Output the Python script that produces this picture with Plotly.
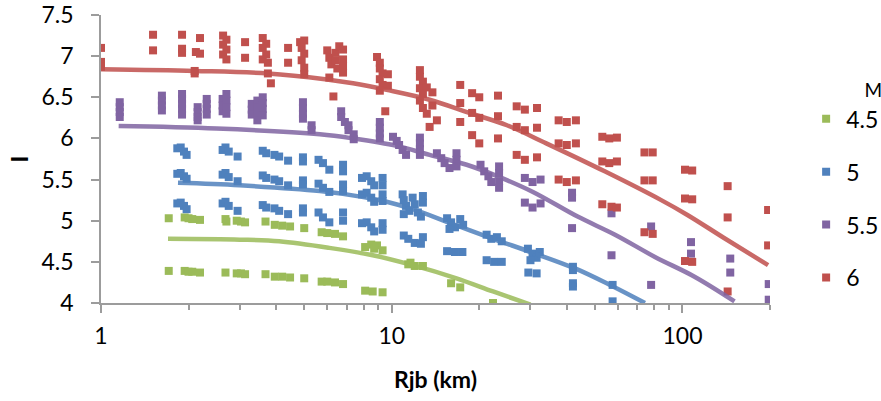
import plotly.graph_objects as go

# ---------------- data ----------------
MAGS = ["4.5", "5", "5.5", "6"]
COLORS = ["#9BBB59", "#4F81BD", "#8064A2", "#C0504D"]

# M 4.5 observations
R_45 = [1.71, 1.94, 2.0, 2.06, 2.19, 2.68, 2.70, 2.93, 3.03, 3.13, 3.68, 3.96, 4.2, 4.47, 5.0,
        5.74, 6.0, 6.38, 6.8, 8.1, 8.5, 8.7, 8.9, 9.3, 11.4, 11.6, 12.0, 12.8, 16.0, 17.2, 22.3,
        1.71, 1.94, 2.0, 2.06, 2.19, 2.68, 2.93, 3.03, 3.13, 3.68, 3.96, 4.2, 4.47, 5.0,
        5.74, 6.0, 6.38, 6.8, 8.1, 8.6, 9.3]
I_45 = [5.03, 5.04, 5.03, 5.02, 5.01, 5.02, 4.99, 5.00, 4.99, 4.98, 4.99, 4.95, 4.94, 4.93, 4.91,
        4.86, 4.85, 4.84, 4.81, 4.68, 4.71, 4.66, 4.70, 4.64, 4.47, 4.49, 4.45, 4.45, 4.24, 4.19, 4.00,
        4.39, 4.39, 4.38, 4.38, 4.37, 4.37, 4.36, 4.36, 4.35, 4.35, 4.32, 4.32, 4.31, 4.30,
        4.26, 4.26, 4.25, 4.23, 4.15, 4.14, 4.13]

# M 5 observations
R_5 = [1.83, 1.88, 1.93, 1.97, 1.83, 1.88, 1.93, 1.97, 1.83, 1.88, 1.93, 1.97,
       2.62, 2.68, 2.75, 2.95, 2.62, 2.68, 2.75, 2.95, 2.62, 2.68, 2.75, 2.95,
       3.6, 3.7, 3.95, 4.1, 4.4, 3.6, 3.7, 3.95, 4.1, 4.4, 3.6, 3.7, 3.95, 4.1, 4.4,
       4.95, 4.95, 4.95, 4.95, 4.95, 4.95,
       5.6, 5.8, 6.1, 5.6, 5.8, 6.1, 5.6, 5.8, 6.1,
       6.8, 6.8, 6.8, 6.8, 6.8, 6.8,
       7.9, 8.2, 8.5, 8.7, 9.3, 9.3, 7.9, 8.2, 8.5, 8.7, 9.3, 9.3, 7.9, 8.2, 8.5, 8.7, 9.3, 9.3,
       10.9, 11.0, 11.2, 11.5, 11.8, 12.0, 12.3, 12.6, 12.8, 12.8, 11.0,
       11.0, 11.4, 12.0, 12.8, 12.6,
       15.5, 16.0, 16.5, 17.2, 17.6, 15.8, 15.5, 16.5, 17.5,
       21.2, 22.0, 23.0, 23.9, 21.2, 22.5, 23.9,
       29.4, 30.5, 31.5, 32.3, 30.0, 29.5, 31.5,
       42.0, 42.0, 42.0, 42.0, 57.5, 57.5]
I_5 = [5.88, 5.89, 5.84, 5.80, 5.57, 5.58, 5.54, 5.51, 5.21, 5.22, 5.18, 5.14,
       5.86, 5.89, 5.84, 5.78, 5.56, 5.58, 5.53, 5.48, 5.21, 5.23, 5.18, 5.12,
       5.85, 5.82, 5.80, 5.78, 5.73, 5.55, 5.52, 5.50, 5.48, 5.43, 5.19, 5.16, 5.15, 5.12, 5.08,
       5.77, 5.72, 5.49, 5.44, 5.15, 5.10,
       5.74, 5.70, 5.62, 5.45, 5.40, 5.35, 5.10, 5.04, 4.98,
       5.68, 5.60, 5.44, 5.36, 5.10, 5.00,
       5.52, 5.54, 5.48, 5.43, 5.52, 5.43, 5.32, 5.34, 5.28, 5.23, 5.32, 5.24, 4.97, 4.98, 4.92, 4.87, 4.97, 4.89,
       5.32, 5.25, 5.18, 5.12, 5.28, 5.20, 5.10, 5.05, 5.30, 5.22, 5.08,
       4.82, 4.78, 4.73, 4.80, 4.72,
       5.03, 4.98, 4.92, 5.02, 4.95, 4.90, 4.63, 4.62, 4.62,
       4.83, 4.78, 4.80, 4.75, 4.52, 4.50, 4.50,
       4.66, 4.60, 4.55, 4.62, 4.52, 4.37, 4.36,
       4.44, 4.40, 4.24, 4.20, 4.22, 4.02]

# M 5.5 observations
R_55 = [1.16, 1.16, 1.16, 1.16,
        1.62, 1.62, 1.62, 1.62,
        1.90, 1.90, 1.90, 1.90, 1.90,
        2.15, 2.15, 2.15, 2.15,
        2.31, 2.31, 2.31, 2.31,
        2.62, 2.62, 2.62, 2.70, 2.70, 2.70, 2.70,
        3.3, 3.3, 3.3, 3.45, 3.45, 3.45, 3.45, 3.6, 3.6, 3.6, 3.6,
        4.95, 4.95, 4.95, 4.95, 5.3, 5.3,
        6.7, 6.7, 6.9, 7.1, 7.1, 7.4, 7.4,
        9.1, 9.1, 9.1, 9.1,
        10.1, 10.4, 10.6, 10.9, 11.2,
        12.5, 12.5, 12.5, 12.5,
        14.3, 14.8, 15.2, 15.8, 16.7, 16.7, 16.7,
        20.2, 20.8, 21.5, 22.0, 23.4, 23.4, 23.4, 23.4,
        28.7, 30.5, 32.5, 28.7, 30.5, 32.5,
        41.7, 41.7, 41.7, 57.0, 57.0, 78.0, 78.0, 107.0, 107.0, 146.0, 146.0, 198.0, 198.0]
I_55 = [6.44, 6.38, 6.32, 6.26,
        6.52, 6.46, 6.40, 6.34,
        6.54, 6.48, 6.42, 6.36, 6.29,
        6.38, 6.32, 6.26, 6.22,
        6.48, 6.42, 6.36, 6.29,
        6.48, 6.40, 6.33, 6.54, 6.46, 6.38, 6.30,
        6.42, 6.35, 6.29, 6.46, 6.38, 6.30, 6.22, 6.50, 6.43, 6.36, 6.28,
        6.44, 6.37, 6.30, 6.24, 6.16, 6.10,
        6.33, 6.26, 6.20, 6.16, 6.10, 6.05, 5.99,
        6.20, 6.13, 6.06, 6.00,
        6.02, 5.97, 5.92, 5.86, 5.80,
        6.01, 5.94, 5.87, 5.80,
        5.82, 5.76, 5.70, 5.64, 5.82, 5.74, 5.66,
        5.68, 5.60, 5.54, 5.47, 5.66, 5.58, 5.48, 5.40,
        5.52, 5.47, 5.50, 5.22, 5.16, 5.21,
        5.34, 5.28, 4.91, 5.09, 4.58, 4.93, 4.22, 4.74, 4.60, 4.54, 4.37, 4.23, 4.04]

# M 6 observations
R_6 = [1.0, 1.0, 1.0,
       1.51, 1.51,
       1.90, 1.90, 1.90,
       2.19, 2.12, 2.19, 2.10, 2.10,
       2.63, 2.70, 2.63, 2.70, 2.63, 2.70,
       3.13, 3.13,
       3.6, 3.7, 3.6, 3.7, 3.6, 3.75, 3.75, 3.84,
       4.4, 4.4,
       4.84, 5.0, 4.9, 5.0, 4.9, 5.0, 5.0,
       6.0, 6.1, 6.2, 6.4, 6.4, 6.5, 6.6, 6.8, 6.8, 6.8, 6.8, 6.1, 6.3,
       8.9, 9.1, 9.1, 9.3, 9.7, 9.1, 9.3, 9.7, 9.1, 9.5,
       12.5, 12.5, 12.8, 12.5, 13.2, 12.8, 13.8, 12.5, 13.8, 12.8, 13.2, 14.3, 13.5,
       17.2, 17.2, 17.2,
       18.9, 20.0, 18.9, 20.0, 18.9, 20.0,
       23.2, 23.2, 23.2,
       26.9, 28.7, 26.9, 28.7, 26.9, 28.7,
       31.6, 31.6, 31.6,
       37.5, 40.0, 43.0, 37.5, 40.0, 43.0, 37.5, 40.0, 43.0,
       53.0, 56.0, 59.5, 53.0, 56.0, 59.5, 53.0, 57.0, 59.5,
       74.0, 79.0, 74.0, 79.0, 74.0, 79.0,
       102.0, 108.0, 102.0, 108.0, 102.0, 108.0,
       143.0, 143.0, 143.0,
       197.0, 197.0]
I_6 = [7.10, 6.93, 6.87,
       7.26, 7.07,
       7.26, 7.09, 7.04,
       7.22, 7.05, 7.03, 6.82, 6.79,
       7.25, 7.20, 7.14, 7.08, 7.02, 6.96,
       7.17, 6.98,
       7.22, 7.15, 7.10, 7.02, 6.96, 6.92, 6.79, 6.67,
       7.10, 6.92,
       7.17, 7.19, 7.10, 7.03, 6.95, 6.86, 6.78,
       7.07, 6.98, 6.90, 7.04, 6.95, 6.85, 7.12, 7.08, 6.96, 6.88, 6.80, 6.74, 6.51,
       6.99, 6.92, 6.85, 6.79, 6.78, 6.72, 6.65, 6.64, 6.58, 6.33,
       6.83, 6.75, 6.69, 6.61, 6.62, 6.54, 6.56, 6.46, 6.40, 6.37, 6.30, 6.22, 6.14,
       6.65, 6.43, 6.20,
       6.55, 6.50, 6.31, 6.25, 6.04, 5.94,
       6.52, 6.27, 6.00,
       6.39, 6.35, 6.14, 6.10, 5.80, 5.74,
       6.37, 6.13, 5.77,
       6.22, 6.20, 6.22, 5.94, 5.92, 5.94, 5.50, 5.47, 5.49,
       6.02, 6.00, 6.01, 5.72, 5.70, 5.72, 5.20, 5.17, 5.16,
       5.83, 5.83, 5.49, 5.49, 4.86, 4.84,
       5.62, 5.61, 5.27, 5.26, 4.51, 4.50,
       5.42, 5.04, 4.14,
       5.13, 4.70]

# fitted curves
CR_45 = [1.7, 3.0, 4.1, 6.1, 8.6, 11.8, 16.7, 22.3, 30.0]
CI_45 = [4.78, 4.77, 4.75, 4.67, 4.58, 4.46, 4.30, 4.14, 3.98]
CR_5 = [1.84, 3.0, 5.66, 7.9, 9.6, 11.8, 16.2, 22.3, 30.6, 42.7, 57.0, 74.3]
CI_5 = [5.46, 5.43, 5.36, 5.29, 5.23, 5.14, 4.96, 4.78, 4.61, 4.42, 4.21, 4.00]
CR_55 = [1.15, 2.5, 5.66, 7.36, 10.4, 13.5, 18.1, 23.5, 30.6, 43.6, 58.6, 80.4, 110.0, 151.0]
CI_55 = [6.15, 6.12, 6.05, 6.00, 5.91, 5.80, 5.68, 5.53, 5.35, 5.05, 4.83, 4.56, 4.32, 4.02]
CR_6 = [1.0, 2.1, 3.75, 5.9, 7.36, 9.6, 13.5, 18.5, 24.9, 34.0, 54.0, 84.5, 104.0, 139.0, 197.0]
CI_6 = [6.84, 6.82, 6.79, 6.72, 6.67, 6.59, 6.47, 6.31, 6.16, 5.94, 5.60, 5.25, 5.07, 4.79, 4.46]

# axis ticks
X_MAJOR = [1, 10, 100]
X_MINOR = [2, 3, 4, 5, 6, 7, 8, 9, 20, 30, 40, 50, 60, 70, 80, 90, 200]

X_TITLE = "Rjb (km)"
Y_TITLE = "I"
LEGEND_TITLE = "M"

# ---------------- figure ----------------
obs = [(R_45, I_45), (R_5, I_5), (R_55, I_55), (R_6, I_6)]
curves = [(CR_45, CI_45), (CR_5, CI_5), (CR_55, CI_55), (CR_6, CI_6)]

FONT = "Lato, Carlito, Calibri, sans-serif"
AXIS_COLOR = "#9c9c9c"

fig = go.Figure()
for name, color, (r, i) in zip(MAGS, COLORS, obs):
    fig.add_trace(go.Scatter(
        x=r, y=i, mode="markers", name=name, legendgroup=name,
        marker=dict(symbol="square", size=8, color=color, line=dict(width=0)),
    ))
for name, color, (r, i) in zip(MAGS, COLORS, curves):
    fig.add_trace(go.Scatter(
        x=r, y=i, mode="lines", name=name, legendgroup=name, showlegend=False,
        line=dict(color=color, width=4.5, shape="spline", smoothing=1.0),
        opacity=0.85,
    ))

fig.update_layout(
    width=881, height=401,
    margin=dict(l=101, r=111, t=15, b=98, autoexpand=False),
    paper_bgcolor="white", plot_bgcolor="white",
    font=dict(family=FONT, size=23, color="black"),
    legend=dict(
        title=dict(text=LEGEND_TITLE, font=dict(size=19), side="top right"),
        x=1.054, xanchor="left", y=0.80, yanchor="top",
        tracegroupgap=20, traceorder="grouped",
        font=dict(size=23), itemsizing="trace",
        bgcolor="rgba(0,0,0,0)",
    ),
    xaxis=dict(
        type="log", range=[0, 2.30103],
        tickmode="array", tickvals=X_MAJOR, ticktext=[str(v) for v in X_MAJOR],
        showline=True, linecolor=AXIS_COLOR, linewidth=1.5,
        ticks="outside", ticklen=8, tickwidth=1.5, tickcolor=AXIS_COLOR,
        minor=dict(tickmode="array", tickvals=X_MINOR, ticks="outside", ticklen=5,
                   tickwidth=1.5, tickcolor=AXIS_COLOR, showgrid=False),
        showgrid=False, zeroline=False,
        title=dict(text=X_TITLE, font=dict(size=23, weight="bold"), standoff=24),
        ticklabelstandoff=4,
    ),
    yaxis=dict(
        range=[4, 7.5], dtick=0.5,
        showline=True, linecolor=AXIS_COLOR, linewidth=1.5,
        ticks="outside", ticklen=8, tickwidth=1.5, tickcolor=AXIS_COLOR,
        showgrid=False, zeroline=False,
        title=dict(text=Y_TITLE, font=dict(size=23, weight="bold"), standoff=6),
        ticklabelstandoff=13,
    ),
)

# remove the browser's default 8px body margin so the chart fills the window exactly
fig.write_html("out.html", config={"displayModeBar": False},
               post_script="document.body.style.margin='0';")
